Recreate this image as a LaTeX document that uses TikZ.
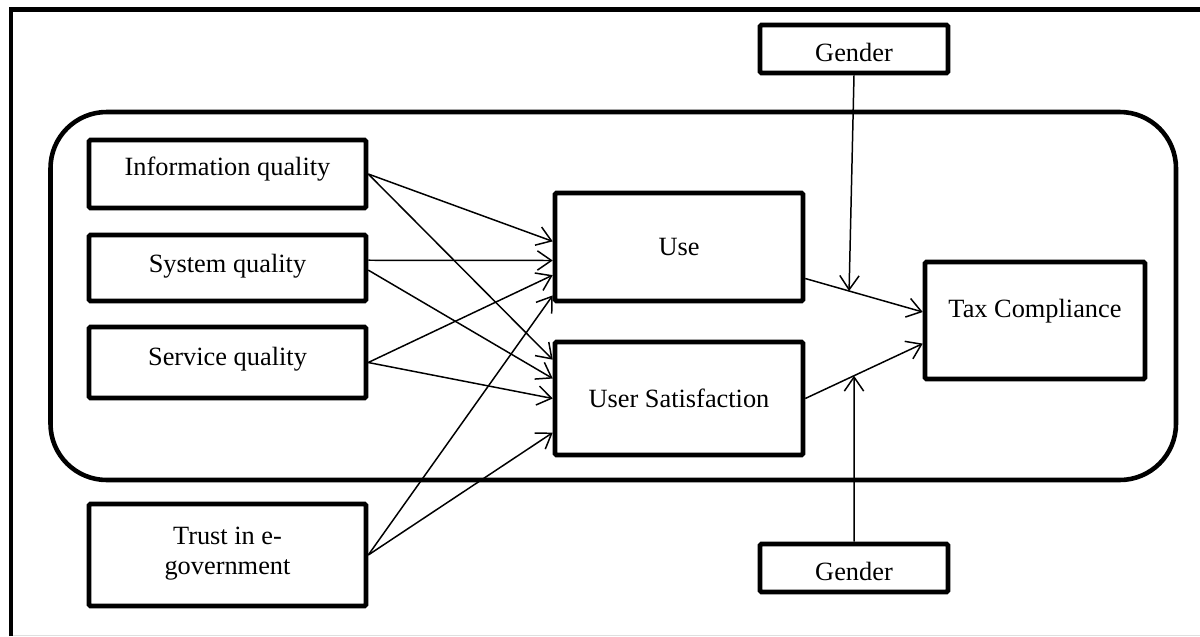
\documentclass[tikz,border=0pt]{standalone}
\usepackage{fontspec}
\setmainfont{Liberation Serif}
\usetikzlibrary{arrows.meta}
\usetikzlibrary{calc}
\tikzset{>={Straight Barb[length=8pt,width=11pt]}}
\tikzset{box/.style={draw, line width=2.6pt, inner sep=0pt, align=center, rounded corners=0.8pt, font=\fontsize{15}{17}\selectfont}}
\tikzset{link/.style={->, line width=0.85pt}}

\begin{document}
\begin{tikzpicture}[x=0.02cm, y=-0.02cm]
        \useasboundingbox (0,0) rectangle (1200,636);
        % outer frame and model border
        \draw[line width=2.6pt] (11,636) -- (11,9.5) -- (1200,9.5);
        \draw[gray!25, line width=0.5pt] (13,635) -- (1200,635);
        \draw[line width=2.6pt, rounded corners=32pt] (50.5,112) rectangle (1176,480);

        \node[box, minimum width=5.54cm, minimum height=1.36cm, text depth=8.5pt] (info) at (227.5,174) {Information quality};
        \node[box, minimum width=5.54cm, minimum height=1.32cm, text depth=5.5pt] (sys) at (227.5,268) {System quality};
        \node[box, minimum width=5.54cm, minimum height=1.42cm, text depth=6.5pt] (serv) at (227.5,362.5) {Service quality};
        \node[box, minimum width=5.54cm, minimum height=2.04cm, text depth=5pt] (trust) at (227.5,555) {Trust in e-\\government};
        \node[box, minimum width=4.96cm, minimum height=2.16cm] (use) at (679,247) {Use};
        \node[box, minimum width=4.96cm, minimum height=2.26cm] (usat) at (679,398.5) {User Satisfaction};
        \node[box, minimum width=4.40cm, minimum height=2.34cm, text depth=14pt] (tax) at (1035,320.5) {Tax Compliance};
        \node[box, minimum width=3.76cm, minimum height=0.96cm, text height=14.5pt] (gtop) at (854,49) {Gender};
        \node[box, minimum width=3.76cm, minimum height=0.96cm, text height=14.5pt] (gbot) at (854,568) {Gender};

        % paths into use and user satisfaction
        \draw[link] (info.east) -- ($(use.north west)!0.45!(use.south west)$);
        \draw[link] (info.east) -- ($(usat.north west)!0.17!(usat.south west)$);
        \draw[link] ($(sys.north east)!0.39!(sys.south east)$) -- ($(use.north west)!0.62!(use.south west)$);
        \draw[link] ($(sys.north east)!0.53!(sys.south east)$) -- ($(usat.north west)!0.33!(usat.south west)$);
        \draw[link] (serv.east) -- ($(use.north west)!0.75!(use.south west)$);
        \draw[link] (serv.east) -- (usat.west);
        \draw[link] (trust.east) -- ($(use.north west)!0.93!(use.south west)$);
        \draw[link] (trust.east) -- ($(usat.north west)!0.79!(usat.south west)$);

        % paths into tax compliance, moderated by gender
        \coordinate (ustart) at ($(use.north east)!0.78!(use.south east)$);
        \coordinate (uend) at ($(tax.north west)!0.43!(tax.south west)$);
        \coordinate (send) at ($(tax.north west)!0.69!(tax.south west)$);
        \draw[link] (ustart) -- (uend);
        \draw[link] (usat.east) -- (send);
        \draw[link] (gtop.south) -- ($(ustart)!0.373!(uend)$);
        \draw[link] (gbot.north) -- ($(usat.east)!0.415!(send)$);
\end{tikzpicture}
\end{document}
